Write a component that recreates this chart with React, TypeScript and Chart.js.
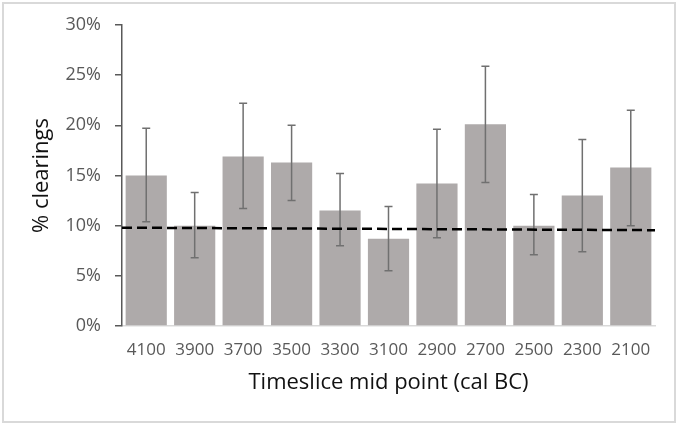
import { useEffect, useRef } from "react"
import { Chart, registerables } from "chart.js"

Chart.register(...registerables)

// timeslice mid points (cal BC)
const labels = ["4100", "3900", "3700", "3500", "3300", "3100", "2900", "2700", "2500", "2300", "2100"]
// % clearings per timeslice
const clearings = [15.0, 10.0, 16.9, 16.3, 11.5, 8.7, 14.2, 20.1, 10.0, 13.0, 15.8]
const errHigh = [19.7, 13.3, 22.2, 20.0, 15.2, 11.9, 19.6, 25.9, 13.1, 18.6, 21.5]
const errLow = [10.4, 6.8, 11.7, 12.5, 8.0, 5.5, 8.8, 14.3, 7.1, 7.4, 10.0]
// dashed trend line, start and end values
const trendStart = 9.8
const trendEnd = 9.55

const FONT = "'Open Sans', 'DejaVu Sans', sans-serif"

const errorBars = {
  id: "errorBars",
  afterDatasetDraw(chart: any, args: any) {
    if (args.meta.type !== "bar") return
    const { ctx } = chart
    const y = chart.scales.y
    ctx.save()
    ctx.strokeStyle = "#707070"
    ctx.lineWidth = 1.5
    args.meta.data.forEach((bar: any, i: number) => {
      const x = bar.x
      const top = y.getPixelForValue(errHigh[i])
      const bot = y.getPixelForValue(errLow[i])
      ctx.beginPath()
      ctx.moveTo(x, top)
      ctx.lineTo(x, bot)
      ctx.moveTo(x - 4, top)
      ctx.lineTo(x + 4, top)
      ctx.moveTo(x - 4, bot)
      ctx.lineTo(x + 4, bot)
      ctx.stroke()
    })
    ctx.restore()
  },
}

export default function App() {
  const chartRef = useRef<HTMLCanvasElement>(null)
  const chartInstance = useRef<Chart | null>(null)

  useEffect(() => {
    if (!chartRef.current) return
    if (chartInstance.current) chartInstance.current.destroy()
    const ctx = chartRef.current.getContext("2d")
    if (!ctx) return

    chartInstance.current = new Chart(ctx, {
      type: "bar",
      data: {
        labels,
        datasets: [
          {
            type: "line",
            label: "trend",
            data: [
              { x: 0, y: trendStart },
              { x: labels.length, y: trendEnd },
            ],
            xAxisID: "xTrend",
            borderColor: "#000",
            borderWidth: 2.5,
            borderDash: [10, 5],
            pointRadius: 0,
            fill: false,
            order: 0,
          } as any,
          {
            type: "bar",
            label: "% clearings",
            data: clearings,
            backgroundColor: "#aeaaaa",
            barPercentage: 0.85,
            categoryPercentage: 1,
            grouped: false,
            order: 1,
          },
        ],
      },
      options: {
        animation: false,
        responsive: true,
        maintainAspectRatio: false,
        layout: { padding: { top: 25, right: 25, left: 0, bottom: 0 } },
        plugins: {
          legend: { display: false },
          tooltip: { enabled: false },
        },
        scales: {
          x: {
            grid: { display: false, drawTicks: false },
            border: { display: true, color: "#d9d9d9", width: 1.5 },
            ticks: { color: "#595959", padding: 14, font: { family: FONT, size: 17 }, maxRotation: 0 },
            title: {
              display: true,
              text: "Timeslice mid point (cal BC)",
              color: "#111",
              font: { family: FONT, size: 22 },
              padding: { top: 0, bottom: 29 },
            },
            afterFit: (s: any) => {
              s.height = 99
            },
          },
          xTrend: {
            type: "linear",
            display: false,
            offset: false,
            min: 0,
            max: labels.length,
          },
          y: {
            min: 0,
            max: 30,
            ticks: {
              stepSize: 5,
              color: "#595959",
              padding: 14,
              font: { family: FONT, size: 18 },
              callback: (v: any) => v + "%",
            },
            grid: { display: true, drawOnChartArea: false, drawTicks: true, tickLength: 7, color: "#595959", lineWidth: 1.5 },
            border: { display: true, color: "#595959", width: 1.5 },
            title: {
              display: true,
              text: "% clearings",
              color: "#111",
              font: { family: FONT, size: 22 },
              padding: { top: 29, bottom: 0 },
            },
            afterFit: (s: any) => {
              s.width = 122
            },
          },
        },
      },
      plugins: [errorBars],
    })

    return () => {
      if (chartInstance.current) {
        chartInstance.current.destroy()
        chartInstance.current = null
      }
    }
  }, [])

  return (
    <div style={{ position: "absolute", left: 0, top: 0, width: 680, height: 425, background: "#fff" }}>
      <div
        style={{
          position: "absolute",
          left: 2,
          top: 2,
          width: 674,
          height: 421,
          border: "2px solid #d9d9d9",
          boxSizing: "border-box",
        }}
      />
      <div style={{ position: "absolute", left: 0, top: 0, width: 680, height: 425 }}>
        <canvas ref={chartRef} />
      </div>
    </div>
  )
}
